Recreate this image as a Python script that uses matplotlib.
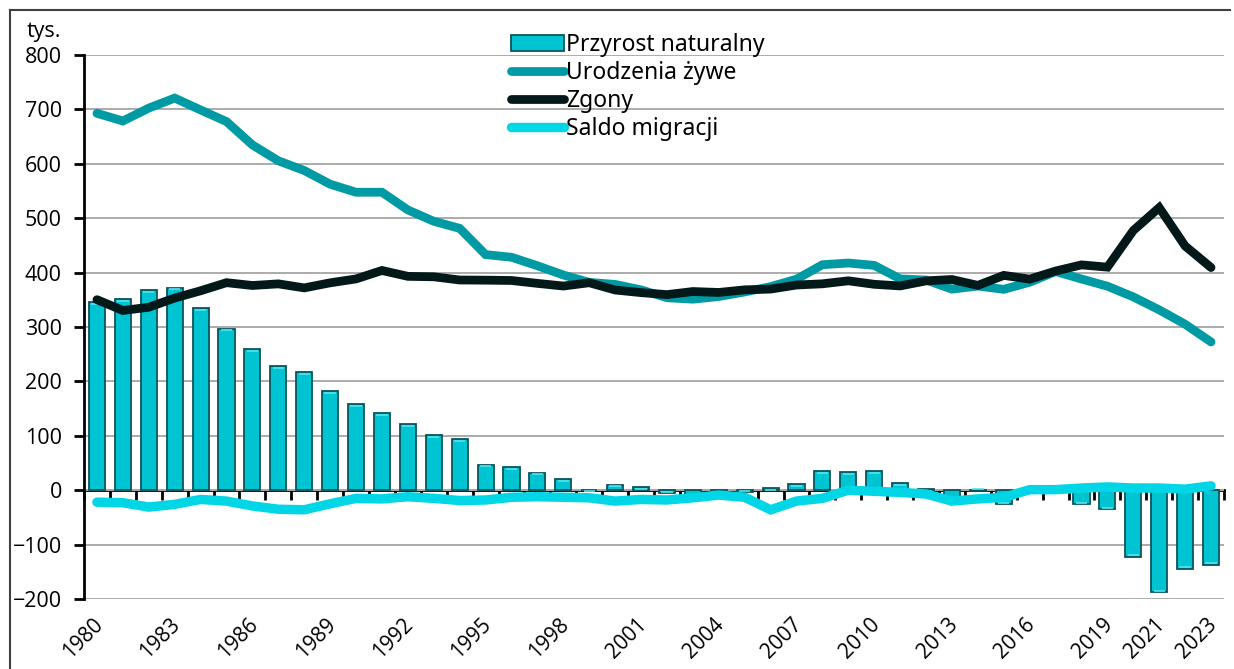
import numpy as np
import matplotlib
matplotlib.use('Agg')
import matplotlib.pyplot as plt
import matplotlib.transforms as mtransforms
from matplotlib.lines import Line2D

# data (thousands)
years = list(range(1980, 2024))
natural_increase = [346, 351, 368, 372, 335, 297, 259, 228, 217, 182,
                    158, 142, 121, 101, 94, 47, 42, 32, 20, 1,
                    10, 5, -6, -14, -7, -4, 4, 11, 35, 33,
                    35, 13, 2, -18, -1, -26, -6, -1, -26, -35,
                    -122, -188, -144, -137]
births = [692.8, 678.7, 702.4, 720.8, 699.0, 677.6, 634.7, 605.5, 587.7, 562.5,
          547.7, 547.7, 515.2, 494.3, 481.3, 433.1, 428.2, 412.6, 395.6, 382.0,
          378.3, 368.2, 353.8, 351.1, 356.1, 364.4, 374.2, 387.9, 414.5, 417.6,
          413.3, 388.4, 386.3, 369.6, 375.2, 369.3, 382.3, 402.0, 388.2, 375.0,
          355.3, 331.5, 305.1, 272.5]
deaths = [350.2, 330.4, 336.3, 353.2, 366.6, 381.5, 376.3, 379.3, 371.9, 381.2,
          388.4, 403.9, 393.1, 392.3, 386.4, 386.1, 385.5, 380.2, 375.3, 381.4,
          368.0, 363.2, 359.5, 365.2, 363.5, 368.3, 369.7, 377.2, 379.4, 384.9,
          378.5, 375.5, 384.8, 387.3, 376.5, 394.9, 388.0, 402.9, 414.2, 410.0,
          477.4, 519.5, 448.9, 409.3]
migration = [-22, -23, -31, -26, -17, -20, -29, -35, -36, -25,
             -15, -16, -12, -15, -19, -18, -13, -12, -13, -14,
             -20, -17, -18, -14, -9, -13, -36, -20, -15, 0,
             -2, -4, -7, -20, -16, -13, 1, 1, 4, 6,
             4, 4, 2, 8]
label_years = [1980, 1983, 1986, 1989, 1992, 1995, 1998, 2001, 2004, 2007,
               2010, 2013, 2016, 2019, 2021, 2023]

c_bar = '#00c4d2'
c_bar_edge = '#0a555c'
c_births = '#009aa5'
c_deaths = '#031818'
c_migr = '#00d6e6'

plt.rcParams['font.family'] = ['Open Sans', 'DejaVu Sans']

fig = plt.figure(figsize=(12.34, 6.69), dpi=100, facecolor='white')
ax = fig.add_axes([84 / 1234, 1 - 599 / 669, (1224 - 84) / 1234, (599 - 55) / 669])

x = np.arange(len(years))
vals = np.array(natural_increase)

bars = ax.bar(x, vals, width=0.62, color=c_bar, edgecolor=c_bar_edge, linewidth=1.3,
              zorder=2, label='Przyrost naturalny')
# faint bevel highlight near the top of each bar
ax.hlines(vals - np.sign(vals) * 3, x - 0.22, x + 0.22, color='#55e4ee',
          linewidth=1.2, zorder=2.5)

lw = 6.3
l1, = ax.plot(x, births, color=c_births, linewidth=lw, solid_capstyle='round',
              solid_joinstyle='miter', zorder=3, label='Urodzenia żywe')
l2, = ax.plot(x, deaths, color=c_deaths, linewidth=lw, solid_capstyle='round',
              solid_joinstyle='miter', zorder=4, label='Zgony')
l3, = ax.plot(x, migration, color=c_migr, linewidth=6.8, solid_capstyle='round',
              solid_joinstyle='miter', zorder=5, label='Saldo migracji')

ax.set_xlim(-0.5, len(years) - 0.5)
ax.set_ylim(-200, 800)
ax.set_yticks(np.arange(-200, 801, 100))
ax.yaxis.grid(True, color='#ababab', linewidth=1.4)
ax.set_axisbelow(True)

for s in ['top', 'right', 'bottom']:
    ax.spines[s].set_visible(False)
ax.spines['left'].set_linewidth(2)
ax.tick_params(axis='y', length=7, width=2, pad=9, labelsize=15.5)

# year labels at the bottom of the plot area
ax.set_xticks([years.index(y) for y in label_years])
ax.set_xticklabels([str(y) for y in label_years], rotation=45, ha='right',
                   va='top', rotation_mode='anchor', fontsize=15)
ax.tick_params(axis='x', length=0, pad=11)
shift = mtransforms.ScaledTranslation(-5 / 100, 0, fig.dpi_scale_trans)
for lab in ax.get_xticklabels():
    lab.set_transform(lab.get_transform() + shift)

# zero line with category ticks
zero = ax.secondary_xaxis(0.2)
zero.set_xticks(np.arange(-0.5, len(years), 1.0))
zero.set_xticklabels([])
zero.tick_params(length=7, width=2, direction='out')
zero.spines['bottom'].set_linewidth(2)

fig.text(27 / 1234, 1 - 37 / 669, 'tys.', fontsize=15.5, ha='left', va='baseline')

leg = ax.legend(handles=[bars, l1, l2, l3], loc='upper left',
                bbox_to_anchor=(511 / 1234, 1 - 33 / 669),
                bbox_transform=fig.transFigure, frameon=False, fontsize=16.5,
                handlelength=2.3, handletextpad=0.1, labelspacing=0.18,
                borderaxespad=0, borderpad=0)
for t in leg.get_texts():
    t.set_family(['Noto Sans', 'DejaVu Sans'])

# outer frame (top and left edges visible in the crop)
fig.add_artist(Line2D([10 / 1234, 1230 / 1234], [1 - 10 / 669, 1 - 10 / 669],
                      color='#404040', linewidth=1.5))
fig.add_artist(Line2D([10 / 1234, 10 / 1234], [1 - 10 / 669, 0],
                      color='#404040', linewidth=1.5))

fig.savefig('out.png', dpi=100, facecolor='white')
